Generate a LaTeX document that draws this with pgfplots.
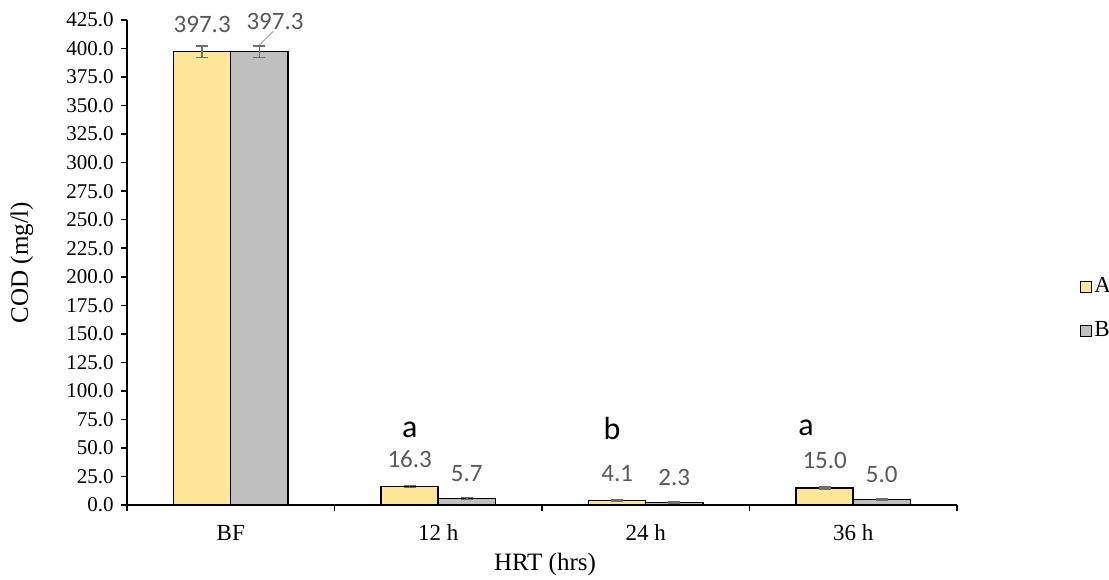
\documentclass[border=0pt]{standalone}
\usepackage{pgfplots}
\usepackage{pgfplotstable}
\pgfplotsset{compat=1.18}
\usepackage{fontspec}
\setmainfont{Liberation Serif}
\newfontfamily\carlito{Carlito}
\definecolor{barA}{HTML}{FFE699}
\definecolor{barB}{HTML}{BFBFBF}
\definecolor{lblgrey}{HTML}{595959}
\definecolor{errgrey}{HTML}{6F6F6F}
\definecolor{leader}{HTML}{A6A6A6}

\pgfplotstableread{
x y err lbl
0 397.3 5.0 397.3
1 16.3 1.0 16.3
2 4.1 0.5 4.1
3 15.0 0.8 15.0
}\dataA
\pgfplotstableread{
x y err
0 397.3 5.0
1 5.7 0.8
2 2.3 0.4
3 5.0 0.8
}\dataB
\pgfplotstableread{
x y lbl
1 5.7 5.7
2 2.3 2.3
3 5.0 5.0
}\labelsB

\begin{document}
\begin{tikzpicture}
\useasboundingbox (-63.5pt,-37pt) rectangle (491pt,252.5pt);
\begin{axis}[
  scale only axis, width=415pt, height=242.5pt,
  xmin=-0.5, xmax=3.5, ymin=0, ymax=425,
  clip=false,
  axis lines=left,
  axis line style={-, line width=0.75pt, black},
  tick align=outside,
  major tick length=3pt,
  tick style={line width=0.75pt, black},
  ytick={0,25,...,425},
  yticklabel={\pgfmathprintnumber[fixed,fixed zerofill,precision=1]{\tick}},
  /pgf/number format/assume math mode=true,
  yticklabel style={font=\fontsize{10.5}{12}\selectfont, anchor=east, inner sep=0pt, xshift=-3.5pt},
  xtick={-0.5,0.5,1.5,2.5,3.5},
  xticklabels={},
  extra x ticks={0,1,2,3},
  extra x tick labels={BF,12 h,24 h,36 h},
  extra x tick style={major tick length=0pt, xticklabel style={font=\fontsize{11.5}{13}\selectfont, anchor=base, inner sep=0pt, yshift=-17.5pt}},
  xlabel={HRT (hrs)},
  xlabel style={at={(axis description cs:0.5036,0)}, anchor=base, inner sep=0pt, yshift=-32.5pt, font=\fontsize{12.5}{14}\selectfont},
  ylabel={COD (mg/l)},
  ylabel style={at={(axis description cs:-0.1265,0.5)}, anchor=center, inner sep=0pt, font=\fontsize{12.5}{14}\selectfont},
  ybar,
  bar width=0.275,
  legend style={at={(1.1482,0.405)}, anchor=west, draw=none, fill=none, inner sep=0pt,
    font=\fontsize{11.5}{13}\selectfont, row sep=11pt, cells={anchor=west},
    nodes={inner sep=1pt}},
  legend image code/.code={\draw[#1, line width=0.5pt] (0pt,-2.75pt) rectangle (5.5pt,2.75pt);},
]
\addplot[bar shift=-0.1375, fill=barA, draw=black, line width=0.75pt,
  nodes near coords, point meta=explicit symbolic,
  every node near coord/.append style={font=\carlito\fontsize{12.5}{14}\selectfont, color=lblgrey, anchor=south, inner sep=0pt, yshift=9pt},
  error bars/.cd, y dir=both, y explicit,
  error bar style={color=errgrey, line width=0.75pt},
  error mark options={rotate=90, mark size=3pt, line width=0.75pt, color=errgrey}]
  table[x=x, y=y, y error=err, meta=lbl] {\dataA};
\addlegendentry{A}
\addplot[bar shift=0.1375, fill=barB, draw=black, line width=0.75pt,
  error bars/.cd, y dir=both, y explicit,
  error bar style={color=errgrey, line width=0.75pt},
  error mark options={rotate=90, mark size=3pt, line width=0.75pt, color=errgrey}]
  table[x=x, y=y, y error=err] {\dataB};
\addlegendentry{B}
\addplot[forget plot, bar shift=0.1375, draw=none, fill=none,
  nodes near coords, point meta=explicit symbolic,
  every node near coord/.append style={font=\carlito\fontsize{12.5}{14}\selectfont, color=lblgrey, anchor=south, inner sep=0pt, yshift=8pt}]
  table[x=x, y=y, meta=lbl] {\labelsB};
\draw[leader, line width=0.5pt] (axis cs:0.205,415) -- (axis cs:0.1375,403);
\node[font=\carlito\fontsize{12.5}{14}\selectfont, color=lblgrey, anchor=south, inner sep=0pt] at (axis cs:0.2133,416.5) {397.3};
\node[font=\carlito\fontsize{16}{18}\selectfont, anchor=base, inner sep=0pt] at (axis cs:0.8625,59) {a};
\node[font=\carlito\fontsize{16}{18}\selectfont, anchor=base, inner sep=0pt] at (axis cs:1.837,57) {b};
\node[font=\carlito\fontsize{16}{18}\selectfont, anchor=base, inner sep=0pt] at (axis cs:2.772,61) {a};
\end{axis}
\end{tikzpicture}
\end{document}
